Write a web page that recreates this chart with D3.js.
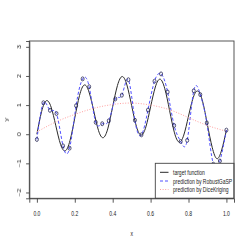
<!DOCTYPE html>
<html>
<head>
<meta charset="utf-8">
<script src="https://cdnjs.cloudflare.com/ajax/libs/d3/7.8.5/d3.min.js"></script>
<style>
  body { margin: 0; background: #fff; }
  text { font-family: "Liberation Sans", Arial, sans-serif; fill: #222; }
</style>
</head>
<body>
<div class="chart"></div>
<script>
// target function
var targetX = [0, 0.025, 0.05, 0.075, 0.1, 0.125, 0.15, 0.175, 0.2, 0.225, 0.25, 0.275, 0.3, 0.325, 0.35, 0.375, 0.4,
  0.425, 0.45, 0.475, 0.5, 0.525, 0.55, 0.575, 0.6, 0.625, 0.65, 0.675, 0.7, 0.725, 0.75, 0.775, 0.8,
  0.825, 0.85, 0.875, 0.9, 0.925, 0.95, 0.975, 1];
var targetY = [0, 0.78, 1.15, 0.93, 0.29, -0.35, -0.57, -0.21, 0.56, 1.33, 1.69, 1.45, 0.80, 0.13, -0.12, 0.21, 0.95,
  1.67, 1.98, 1.69, 0.98, 0.27, -0.03, 0.25, 0.94, 1.62, 1.89, 1.56, 0.82, 0.07, -0.27, -0.03, 0.62,
  1.26, 1.48, 1.11, 0.32, -0.45, -0.84, -0.54, 0.14];

// observations (RobustGaSP prediction passes through these)
var obsX = [0, 0.0345, 0.069, 0.1034, 0.1379, 0.1724, 0.2069, 0.2414, 0.2759, 0.3103, 0.3448, 0.3793, 0.4138, 0.4483, 0.4828,
  0.5172, 0.5517, 0.5862, 0.6207, 0.6552, 0.6897, 0.7241, 0.7586, 0.7931, 0.8276, 0.8621, 0.8966, 0.931, 0.9655, 1];
var obsY = [-0.18, 1.08, 0.82, 0.71, -0.40, -0.48, 0.98, 1.90, 1.63, 0.41, 0.36, 0.46, 1.21, 1.34, 1.87,
  0.48, -0.02, 0.83, 1.82, 2.07, 1.45, 0.30, -0.25, -0.21, 1.49, 1.36, 0.39, -1.03, -0.92, 0.14];

// DiceKriging prediction
var diceX = [0, 0.1, 0.2, 0.3, 0.4, 0.5, 0.6, 0.7, 0.8, 0.9, 1];
var diceY = [0.08, 0.42, 0.68, 0.89, 1.02, 1.07, 1.0, 0.84, 0.57, 0.3, 0.1];

var xTicks = [0, 0.2, 0.4, 0.6, 0.8, 1];
var yTicks = [-2, -1, 0, 1, 2, 3];
var legendLabels = ["target function", "prediction by RobustGaSP", "prediction by DiceKriging"];

var svgWidth = 249, svgHeight = 249;
var plot = { left: 29.3, right: 234, top: 41, bottom: 198.3 };
var squeeze = 0.72; // text is narrower than tall in the picture
var blue = "#5050ff", pink = "#ffa0a0";

var svg = d3.select(".chart").append("svg")
  .attr("width", svgWidth)
  .attr("height", svgHeight);

// plain filter so rotated text is drawn in grey, not with colour fringes
svg.append("defs").append("filter")
  .attr("id", "flat")
  .append("feOffset").attr("dx", 0).attr("dy", 0);

var x = d3.scaleLinear().domain([-0.04, 1.04]).range([plot.left, plot.right]);
var y = d3.scaleLinear().domain([-2.2, 3.2]).range([plot.bottom, plot.top]);

function label(xp, yp, txt, rot) {
  var t = svg.append("text")
    .attr("transform", "translate(" + xp + "," + yp + ") scale(" + squeeze + ",1)" + (rot ? " rotate(-90)" : ""))
    .attr("text-anchor", "middle")
    .attr("dominant-baseline", "central")
    .style("font-size", "7px")
    .text(txt);
  if (rot) t.attr("filter", "url(#flat)");
  return t;
}

// axes
var xAxis = svg.append("g")
  .attr("transform", "translate(0," + plot.bottom + ")")
  .call(d3.axisBottom(x).tickValues(xTicks).tickSize(4.4).tickFormat(""));
var yAxis = svg.append("g")
  .attr("transform", "translate(" + plot.left + ",0)")
  .call(d3.axisLeft(y).tickValues(yTicks).tickSize(3.2).tickFormat(""));
[xAxis, yAxis].forEach(function(a) {
  a.select(".domain").attr("stroke", "#444").attr("stroke-width", 0.9);
  a.selectAll(".tick line").attr("stroke", "#444").attr("stroke-width", 0.9);
});
xTicks.forEach(function(t) { label(x(t), 213, d3.format(".1f")(t)); });
yTicks.forEach(function(t) { label(19, y(t), t < 0 ? "\u2212" + (-t) : t, true); });

label((plot.left + plot.right) / 2, 233, "x");
label(6, (plot.top + plot.bottom) / 2, "y", true);

// curves
var line = d3.line().x(d => x(d[0])).y(d => y(d[1])).curve(d3.curveNatural);

svg.append("path")
  .datum(targetX.map((v, i) => [v, targetY[i]]))
  .attr("d", line)
  .attr("fill", "none").attr("stroke", "#2a2a2a").attr("stroke-width", 1);

svg.append("path")
  .datum(obsX.map((v, i) => [v, obsY[i]]))
  .attr("d", line)
  .attr("fill", "none").attr("stroke", blue).attr("stroke-width", 1)
  .attr("stroke-dasharray", "3,2");

svg.append("path")
  .datum(diceX.map((v, i) => [v, diceY[i]]))
  .attr("d", line)
  .attr("fill", "none").attr("stroke", pink).attr("stroke-width", 1)
  .attr("stroke-dasharray", "1,1.6");

svg.append("g").selectAll("ellipse")
  .data(obsX)
  .enter()
  .append("ellipse")
  .attr("cx", d => x(d))
  .attr("cy", (d, i) => y(obsY[i]))
  .attr("rx", 1.5)
  .attr("ry", 2)
  .attr("fill", "none")
  .attr("stroke", "#2a2a55")
  .attr("stroke-width", 0.8);

// legend
var legend = svg.append("g");
legend.append("rect")
  .attr("x", 155.3).attr("y", 163.3)
  .attr("width", plot.right - 155.3).attr("height", plot.bottom - 163.3)
  .attr("fill", "#fff").attr("stroke", "#444").attr("stroke-width", 0.9);
var legendColors = ["#2a2a2a", blue, pink];
var legendDash = [null, "3,2", "1,1.6"];
var rowY = [172.3, 181, 189.5];
legendLabels.forEach(function(t, i) {
  legend.append("line")
    .attr("x1", 160).attr("x2", 168.5)
    .attr("y1", rowY[i]).attr("y2", rowY[i])
    .attr("stroke", legendColors[i]).attr("stroke-width", 1)
    .attr("stroke-dasharray", legendDash[i]);
  legend.append("text")
    .attr("transform", "translate(173," + rowY[i] + ") scale(" + squeeze + ",1)")
    .attr("dominant-baseline", "central")
    .style("font-size", "7px")
    .text(t);
});

// frame
svg.append("rect")
  .attr("x", plot.left).attr("y", plot.top)
  .attr("width", plot.right - plot.left).attr("height", plot.bottom - plot.top)
  .attr("fill", "none").attr("stroke", "#444").attr("stroke-width", 0.9);
</script>
</body>
</html>
